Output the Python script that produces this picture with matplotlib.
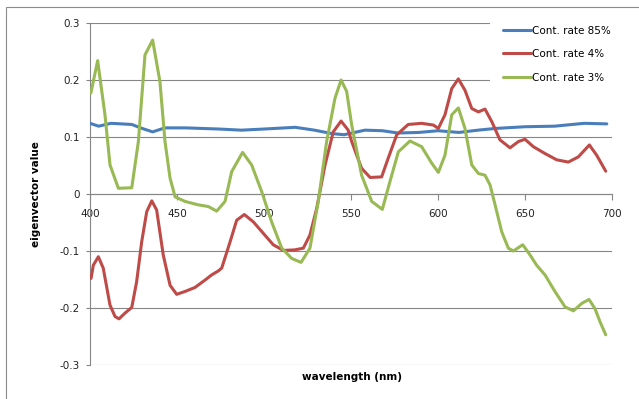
import numpy as np
import matplotlib
matplotlib.use("Agg")
import matplotlib.pyplot as plt
from matplotlib.patches import Rectangle

# traced eigenvector values per contribution rate
wl_85 = [400, 405, 412, 424, 430, 436, 443, 455, 474, 487, 500, 518, 529, 539,
         546, 558, 568, 577, 589, 600, 612, 623, 633, 650, 667, 684, 697]
val_85 = [0.124, 0.119, 0.124, 0.122, 0.115, 0.109, 0.116, 0.116, 0.114, 0.112,
          0.114, 0.117, 0.112, 0.106, 0.104, 0.112, 0.111, 0.107, 0.108, 0.111,
          0.108, 0.112, 0.115, 0.118, 0.119, 0.124, 0.123]

wl_4 = [400.6, 401.9, 404.8, 407.6, 411.5, 414.4, 416.7, 420.1, 424, 426.8,
        429.7, 432.6, 435.5, 438.3, 442.1, 446, 449.8, 454.6, 460.3, 466.1,
        469.9, 473.7, 475.7, 480.5, 484.3, 488.7, 493.9, 499.6, 505.3, 511.1,
        517.8, 522.6, 526.4, 530.3, 535.1, 539.8, 544.3, 548.4, 550.4, 556.1,
        561, 567.6, 571.4, 576.3, 582.9, 590.6, 597.3, 600.2, 604, 607.9,
        611.7, 615.5, 619.4, 623.2, 627, 630.9, 635.6, 641.4, 646.2, 650,
        654.8, 661.5, 668.2, 674.9, 680.6, 687, 691.2, 696.4]
val_4 = [-0.148, -0.125, -0.110, -0.130, -0.195, -0.215, -0.219, -0.209, -0.199, -0.154,
         -0.084, -0.031, -0.012, -0.028, -0.107, -0.160, -0.176, -0.171, -0.164, -0.151,
         -0.142, -0.135, -0.130, -0.084, -0.046, -0.036, -0.049, -0.069, -0.089, -0.099,
         -0.098, -0.095, -0.072, -0.025, 0.051, 0.109, 0.128, 0.112, 0.092, 0.045,
         0.029, 0.030, 0.063, 0.104, 0.122, 0.124, 0.121, 0.115, 0.139, 0.185,
         0.202, 0.182, 0.150, 0.144, 0.149, 0.127, 0.095, 0.081, 0.092, 0.096,
         0.083, 0.071, 0.060, 0.056, 0.065, 0.086, 0.068, 0.040]

wl_3 = [400.5, 404.4, 408.6, 411.5, 416.3, 424, 427.8, 431.6, 436, 440.2,
        443.1, 446, 448.9, 454.6, 462.2, 468, 472.8, 477.6, 481.4, 487.7,
        492.9, 498.7, 504.4, 510.2, 515.9, 521.3, 526.4, 531.2, 536, 540.8,
        544.3, 547.5, 550.4, 556.1, 561.9, 568, 572.4, 577.2, 583.9, 590.6,
        596.4, 600.2, 604, 607.9, 611.7, 615.5, 619.4, 623.2, 627, 629.9,
        632.8, 636.6, 640.4, 643.3, 648.7, 652.9, 656.7, 661.5, 667.2, 673,
        677.8, 682.6, 686.8, 690.2, 693.1, 696.4]
val_3 = [0.177, 0.234, 0.139, 0.051, 0.010, 0.011, 0.092, 0.244, 0.270, 0.197,
         0.092, 0.028, -0.005, -0.013, -0.019, -0.022, -0.030, -0.013, 0.039, 0.073,
         0.051, 0.004, -0.049, -0.095, -0.113, -0.120, -0.095, -0.013, 0.092, 0.168,
         0.200, 0.180, 0.121, 0.033, -0.013, -0.027, 0.022, 0.074, 0.093, 0.083,
         0.054, 0.038, 0.068, 0.139, 0.151, 0.115, 0.051, 0.036, 0.033, 0.016,
         -0.019, -0.066, -0.095, -0.100, -0.089, -0.107, -0.125, -0.142, -0.171, -0.198,
         -0.205, -0.192, -0.185, -0.201, -0.224, -0.247]

labels = ["Cont. rate 85%", "Cont. rate 4%", "Cont. rate 3%"]
colors = ["#4A7EBB", "#BE4B48", "#98B954"]

x_ticks = [400, 450, 500, 550, 600, 650, 700]
y_ticks = [-0.3, -0.2, -0.1, 0, 0.1, 0.2, 0.3]
y_tick_labels = ["-0.3", "-0.2", "-0.1", "0", "0.1", "0.2", "0.3"]

W, H = 639, 399
fig = plt.figure(figsize=(W / 100, H / 100), dpi=100)
ax = fig.add_axes([90 / W, 1 - 365 / H, (612 - 90) / W, (365 - 23) / H])

grey = "#868686"

# outer chart frame, only left and top edges fall inside the image
fig.add_artist(Rectangle((6 / W, -0.1), 1.2, 1 - 7 / H + 0.1,
                         transform=fig.transFigure, fill=False,
                         edgecolor="#8c8c8c", linewidth=0.8))

series = [(wl_85, val_85), (wl_4, val_4), (wl_3, val_3)]
for (x, y), lab, c in zip(series, labels, colors):
    ax.plot(x, y, color=c, linewidth=2.2, label=lab,
            solid_joinstyle="round", solid_capstyle="round", zorder=3)

ax.set_xlim(400, 700)
ax.set_ylim(-0.3, 0.3)
ax.set_xticks(x_ticks)
ax.set_yticks(y_ticks)
ax.set_yticklabels(y_tick_labels)

ax.grid(axis="y", color=grey, linewidth=0.8)
ax.set_axisbelow(True)

for s in ["top", "right"]:
    ax.spines[s].set_visible(False)
ax.spines["left"].set_color(grey)
ax.spines["bottom"].set_color(grey)
ax.spines["bottom"].set_position(("data", 0))

ax.tick_params(axis="x", length=4, width=0.8, color=grey, pad=7,
               labelsize=7.5, labelcolor="#222222")
ax.tick_params(axis="y", length=3, width=0.8, color=grey, pad=4.5,
               labelsize=7.5, labelcolor="#222222")

ax.set_xlabel("wavelength (nm)", fontsize=7.5, fontweight="bold")
ax.set_ylabel("eigenvector value", fontsize=7.5, fontweight="bold")
ax.xaxis.set_label_coords(0.502, -0.02)
ax.yaxis.set_label_coords(-0.094, 0.5)

leg = ax.legend(loc="upper left", bbox_to_anchor=(490 / W, 1 - 13 / H),
                bbox_transform=fig.transFigure, fontsize=7.5,
                frameon=True, facecolor="white", edgecolor="none",
                framealpha=1, fancybox=False, borderaxespad=0,
                borderpad=1.2, handlelength=2.7, handletextpad=0.1,
                labelspacing=1.3)

plt.savefig("out.png", dpi=100)
